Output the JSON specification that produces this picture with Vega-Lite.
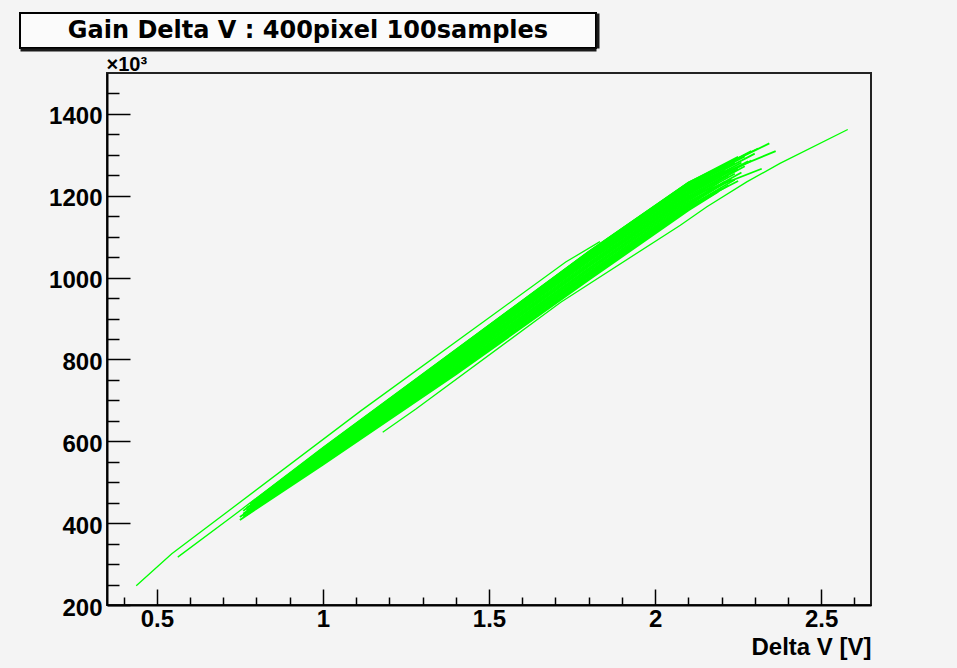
{
  "$schema": "https://vega.github.io/schema/vega-lite/v6.json",
  "background": "#f4f4f4",
  "padding": {"left": 19, "top": 12, "right": 87, "bottom": 12},
  "spacing": 2,
  "config": {"font": "Liberation Sans"},
  "datasets": {
    "band": [
      {"id": 1, "v": 0.84, "g": 483}, {"id": 1, "v": 1.0, "g": 583}, {"id": 1, "v": 1.4, "g": 823}, {"id": 1, "v": 1.8, "g": 1063}, {"id": 1, "v": 2.1, "g": 1232}, {"id": 1, "v": 2.25, "g": 1295},
      {"id": 2, "v": 0.80, "g": 460}, {"id": 2, "v": 1.0, "g": 582}, {"id": 2, "v": 1.4, "g": 821}, {"id": 2, "v": 1.8, "g": 1061}, {"id": 2, "v": 2.1, "g": 1229}, {"id": 2, "v": 2.29, "g": 1309},
      {"id": 3, "v": 0.82, "g": 471}, {"id": 3, "v": 1.0, "g": 581}, {"id": 3, "v": 1.4, "g": 820}, {"id": 3, "v": 1.8, "g": 1059}, {"id": 3, "v": 2.1, "g": 1227}, {"id": 3, "v": 2.22, "g": 1277},
      {"id": 4, "v": 0.78, "g": 447}, {"id": 4, "v": 1.0, "g": 580}, {"id": 4, "v": 1.4, "g": 818}, {"id": 4, "v": 1.8, "g": 1057}, {"id": 4, "v": 2.1, "g": 1224}, {"id": 4, "v": 2.27, "g": 1296},
      {"id": 5, "v": 0.85, "g": 487}, {"id": 5, "v": 1.0, "g": 578}, {"id": 5, "v": 1.4, "g": 816}, {"id": 5, "v": 1.8, "g": 1054}, {"id": 5, "v": 2.1, "g": 1221}, {"id": 5, "v": 2.24, "g": 1281},
      {"id": 6, "v": 0.79, "g": 451}, {"id": 6, "v": 1.0, "g": 577}, {"id": 6, "v": 1.4, "g": 814}, {"id": 6, "v": 1.8, "g": 1052}, {"id": 6, "v": 2.1, "g": 1218}, {"id": 6, "v": 2.30, "g": 1303},
      {"id": 7, "v": 0.81, "g": 462}, {"id": 7, "v": 1.0, "g": 575}, {"id": 7, "v": 1.4, "g": 811}, {"id": 7, "v": 1.8, "g": 1049}, {"id": 7, "v": 2.1, "g": 1215}, {"id": 7, "v": 2.21, "g": 1262},
      {"id": 8, "v": 0.77, "g": 437}, {"id": 8, "v": 1.0, "g": 574}, {"id": 8, "v": 1.4, "g": 809}, {"id": 8, "v": 1.8, "g": 1046}, {"id": 8, "v": 2.1, "g": 1212}, {"id": 8, "v": 2.26, "g": 1281},
      {"id": 9, "v": 0.83, "g": 471}, {"id": 9, "v": 1.0, "g": 572}, {"id": 9, "v": 1.4, "g": 807}, {"id": 9, "v": 1.8, "g": 1043}, {"id": 9, "v": 2.1, "g": 1209}, {"id": 9, "v": 2.23, "g": 1266},
      {"id": 10, "v": 0.76, "g": 430}, {"id": 10, "v": 1.0, "g": 570}, {"id": 10, "v": 1.4, "g": 804}, {"id": 10, "v": 1.8, "g": 1040}, {"id": 10, "v": 2.1, "g": 1206}, {"id": 10, "v": 2.28, "g": 1284},
      {"id": 11, "v": 0.80, "g": 451}, {"id": 11, "v": 1.0, "g": 568}, {"id": 11, "v": 1.4, "g": 801}, {"id": 11, "v": 1.8, "g": 1036}, {"id": 11, "v": 2.1, "g": 1203}, {"id": 11, "v": 2.20, "g": 1248},
      {"id": 12, "v": 0.78, "g": 439}, {"id": 12, "v": 1.0, "g": 566}, {"id": 12, "v": 1.4, "g": 798}, {"id": 12, "v": 1.8, "g": 1033}, {"id": 12, "v": 2.1, "g": 1200}, {"id": 12, "v": 2.25, "g": 1266},
      {"id": 13, "v": 0.82, "g": 460}, {"id": 13, "v": 1.0, "g": 565}, {"id": 13, "v": 1.4, "g": 795}, {"id": 13, "v": 1.8, "g": 1030}, {"id": 13, "v": 2.1, "g": 1197}, {"id": 13, "v": 2.27, "g": 1272},
      {"id": 14, "v": 0.77, "g": 431}, {"id": 14, "v": 1.0, "g": 563}, {"id": 14, "v": 1.4, "g": 793}, {"id": 14, "v": 1.8, "g": 1027}, {"id": 14, "v": 2.1, "g": 1194}, {"id": 14, "v": 2.22, "g": 1249},
      {"id": 15, "v": 0.81, "g": 452}, {"id": 15, "v": 1.0, "g": 561}, {"id": 15, "v": 1.4, "g": 790}, {"id": 15, "v": 1.8, "g": 1023}, {"id": 15, "v": 2.1, "g": 1191}, {"id": 15, "v": 2.24, "g": 1254},
      {"id": 16, "v": 0.76, "g": 423}, {"id": 16, "v": 1.0, "g": 559}, {"id": 16, "v": 1.4, "g": 787}, {"id": 16, "v": 1.8, "g": 1020}, {"id": 16, "v": 2.1, "g": 1188}, {"id": 16, "v": 2.19, "g": 1231},
      {"id": 17, "v": 0.79, "g": 438}, {"id": 17, "v": 1.0, "g": 557}, {"id": 17, "v": 1.4, "g": 784}, {"id": 17, "v": 1.8, "g": 1017}, {"id": 17, "v": 2.1, "g": 1185}, {"id": 17, "v": 2.26, "g": 1257},
      {"id": 18, "v": 0.75, "g": 415}, {"id": 18, "v": 1.0, "g": 555}, {"id": 18, "v": 1.4, "g": 781}, {"id": 18, "v": 1.8, "g": 1013}, {"id": 18, "v": 2.1, "g": 1182}, {"id": 18, "v": 2.21, "g": 1234},
      {"id": 19, "v": 0.80, "g": 442}, {"id": 19, "v": 1.0, "g": 553}, {"id": 19, "v": 1.4, "g": 778}, {"id": 19, "v": 1.8, "g": 1010}, {"id": 19, "v": 2.1, "g": 1179}, {"id": 19, "v": 2.23, "g": 1240},
      {"id": 20, "v": 0.77, "g": 424}, {"id": 20, "v": 1.0, "g": 551}, {"id": 20, "v": 1.4, "g": 775}, {"id": 20, "v": 1.8, "g": 1007}, {"id": 20, "v": 2.1, "g": 1176}, {"id": 20, "v": 2.18, "g": 1217},
      {"id": 21, "v": 0.82, "g": 452}, {"id": 21, "v": 1.0, "g": 549}, {"id": 21, "v": 1.4, "g": 772}, {"id": 21, "v": 1.8, "g": 1003}, {"id": 21, "v": 2.1, "g": 1173}, {"id": 21, "v": 2.24, "g": 1239},
      {"id": 22, "v": 0.76, "g": 416}, {"id": 22, "v": 1.0, "g": 547}, {"id": 22, "v": 1.4, "g": 769}, {"id": 22, "v": 1.8, "g": 1000}, {"id": 22, "v": 2.1, "g": 1170}, {"id": 22, "v": 2.20, "g": 1219},
      {"id": 23, "v": 0.79, "g": 432}, {"id": 23, "v": 1.0, "g": 545}, {"id": 23, "v": 1.4, "g": 766}, {"id": 23, "v": 1.8, "g": 997}, {"id": 23, "v": 2.1, "g": 1167}, {"id": 23, "v": 2.22, "g": 1225},
      {"id": 24, "v": 0.75, "g": 408}, {"id": 24, "v": 1.0, "g": 543}, {"id": 24, "v": 1.4, "g": 763}, {"id": 24, "v": 1.8, "g": 994}, {"id": 24, "v": 2.1, "g": 1164}, {"id": 24, "v": 2.19, "g": 1210},
      {"id": 25, "v": 0.80, "g": 454}, {"id": 25, "v": 1.0, "g": 582}, {"id": 25, "v": 1.4, "g": 822}, {"id": 25, "v": 1.8, "g": 1062}, {"id": 25, "v": 2.1, "g": 1231}, {"id": 25, "v": 2.344, "g": 1328},
      {"id": 26, "v": 0.79, "g": 447}, {"id": 26, "v": 1.0, "g": 576}, {"id": 26, "v": 1.4, "g": 815}, {"id": 26, "v": 1.8, "g": 1055}, {"id": 26, "v": 2.1, "g": 1221}, {"id": 26, "v": 2.363, "g": 1309},
      {"id": 27, "v": 0.78, "g": 440}, {"id": 27, "v": 1.0, "g": 564}, {"id": 27, "v": 1.4, "g": 796}, {"id": 27, "v": 1.8, "g": 1029}, {"id": 27, "v": 2.1, "g": 1196}, {"id": 27, "v": 2.321, "g": 1266},
      {"id": 28, "v": 0.77, "g": 420}, {"id": 28, "v": 1.0, "g": 552}, {"id": 28, "v": 1.4, "g": 777}, {"id": 28, "v": 1.8, "g": 1005}, {"id": 28, "v": 2.1, "g": 1174}, {"id": 28, "v": 2.25, "g": 1236},
      {"id": 29, "v": 0.79, "g": 446}, {"id": 29, "v": 1.0, "g": 571}, {"id": 29, "v": 1.4, "g": 806}, {"id": 29, "v": 1.8, "g": 1041}, {"id": 29, "v": 2.1, "g": 1207}, {"id": 29, "v": 2.29, "g": 1286}
    ],
    "outliers": [
      {"id": "A", "v": 0.438, "g": 247}, {"id": "A", "v": 0.545, "g": 325}, {"id": "A", "v": 1.115, "g": 675}, {"id": "A", "v": 1.731, "g": 1038}, {"id": "A", "v": 1.834, "g": 1088},
      {"id": "B", "v": 0.563, "g": 317}, {"id": "B", "v": 0.73, "g": 418}, {"id": "B", "v": 1.0, "g": 585}, {"id": "B", "v": 1.4, "g": 824}, {"id": "B", "v": 1.8, "g": 1064}, {"id": "B", "v": 2.1, "g": 1233}, {"id": "B", "v": 2.31, "g": 1316},
      {"id": "C", "v": 1.180, "g": 622}, {"id": "C", "v": 1.280, "g": 679}, {"id": "C", "v": 1.716, "g": 940}, {"id": "C", "v": 2.076, "g": 1128}, {"id": "C", "v": 2.156, "g": 1173}, {"id": "C", "v": 2.276, "g": 1234}, {"id": "C", "v": 2.376, "g": 1279}, {"id": "C", "v": 2.580, "g": 1362}
    ]
  },
  "vconcat": [
    {
      "width": 576,
      "height": 35,
      "view": {"stroke": "#000000", "strokeWidth": 2, "fill": "#fbfbfb"},
      "data": {"values": [{"label": "Gain Delta V : 400pixel 100samples"}]},
      "mark": {"type": "text", "font": "DejaVu Sans", "fontWeight": "bold", "fontSize": 24, "color": "#000000", "baseline": "middle", "align": "center"},
      "encoding": {
        "text": {"field": "label", "type": "nominal"},
        "x": {"field": "label", "type": "nominal", "axis": {"orient": "bottom", "labels": false, "ticks": false, "title": null, "grid": false, "domain": true, "domainColor": "#1a1a1a", "domainWidth": 3, "offset": 1.5}},
        "y": {"field": "label", "type": "nominal", "axis": {"orient": "right", "labels": false, "ticks": false, "title": null, "grid": false, "domain": true, "domainColor": "#1a1a1a", "domainWidth": 3, "offset": 1.5}}
      }
    },
    {
      "spacing": 0,
      "hconcat": [
        {
          "width": 1,
          "height": 1,
          "view": {"stroke": null},
          "data": {"values": []},
          "mark": "point"
        },
        {
          "width": 764,
          "height": 532,
          "view": {"stroke": "#222222", "strokeWidth": 2},
          "resolve": {"axis": {"y": "independent"}},
          "encoding": {
            "x": {
              "field": "v", "type": "quantitative",
              "scale": {"domain": [0.35, 2.65], "nice": false, "zero": false},
              "axis": {
                "values": [0.4, 0.5, 0.6, 0.7, 0.8, 0.9, 1.0, 1.1, 1.2, 1.3, 1.4, 1.5, 1.6, 1.7, 1.8, 1.9, 2.0, 2.1, 2.2, 2.3, 2.4, 2.5, 2.6],
                "labelExpr": "round(datum.value*10) % 5 == 0 ? toString(round(datum.value*10)/10) : ''",
                "tickSize": {"condition": {"test": "round(datum.value*10) % 5 == 0", "value": -16}, "value": -8},
                "tickColor": "#000000", "tickWidth": 1.5,
                "domainColor": "#000000", "domainWidth": 2,
                "grid": false,
                "labelFont": "Liberation Sans", "labelFontWeight": "bold", "labelFontSize": 24, "labelColor": "#000000",
                "labelPadding": 18, "labelFlush": false, "labelOverlap": false, "labelBaseline": "top",
                "title": "Delta V [V]",
                "titleFont": "Liberation Sans", "titleFontWeight": "bold", "titleFontSize": 24, "titleColor": "#000000",
                "titleAnchor": "end", "titleAlign": "right", "titleBaseline": "alphabetic", "titleY": 49
              }
            }
          },
          "layer": [
            {
              "data": {"name": "band"},
              "mark": {"type": "line", "color": "#00ff00", "strokeWidth": 1.8},
              "encoding": {
                "y": {
                  "field": "g", "type": "quantitative",
                  "scale": {"domain": [200, 1500], "nice": false, "zero": false},
                  "axis": {
                    "values": [200, 250, 300, 350, 400, 450, 500, 550, 600, 650, 700, 750, 800, 850, 900, 950, 1000, 1050, 1100, 1150, 1200, 1250, 1300, 1350, 1400, 1450],
                    "format": "d",
                    "labelExpr": "datum.value % 200 == 0 ? datum.label : ''",
                    "tickSize": {"condition": {"test": "datum.value % 200 == 0", "value": -23}, "value": -12},
                    "tickColor": "#000000", "tickWidth": 1.5,
                    "domainColor": "#000000", "domainWidth": 2,
                    "grid": false,
                    "labelFont": "Liberation Sans", "labelFontWeight": "bold", "labelFontSize": 24, "labelColor": "#000000",
                    "labelPadding": 28, "labelFlush": false, "labelOverlap": false, "labelBaseline": "middle", "labelAlign": "right", "labelOffset": 3,
                    "title": "×10³",
                    "titleFont": "Liberation Sans", "titleFontWeight": "bold", "titleFontSize": 20, "titleColor": "#000000",
                    "titleAngle": 0, "titleAlign": "left", "titleBaseline": "alphabetic", "titleX": -1, "titleY": -3
                  }
                },
                "detail": {"field": "id", "type": "nominal"}
              }
            },
            {
              "data": {"name": "outliers"},
              "mark": {"type": "line", "color": "#00ff00", "strokeWidth": 1.3},
              "encoding": {
                "y": {
                  "field": "g", "type": "quantitative",
                  "scale": {"domain": [200, 1500], "nice": false, "zero": false},
                  "axis": {
                    "orient": "left", "labels": false, "ticks": false, "domain": false, "grid": false,
                    "title": "\u00a0", "titleFontSize": 20, "titleAngle": 0, "titleAlign": "left", "titleBaseline": "alphabetic", "titleX": -85, "titleY": -3
                  }
                },
                "detail": {"field": "id", "type": "nominal"}
              }
            }
          ]
        }
      ]
    }
  ]
}
